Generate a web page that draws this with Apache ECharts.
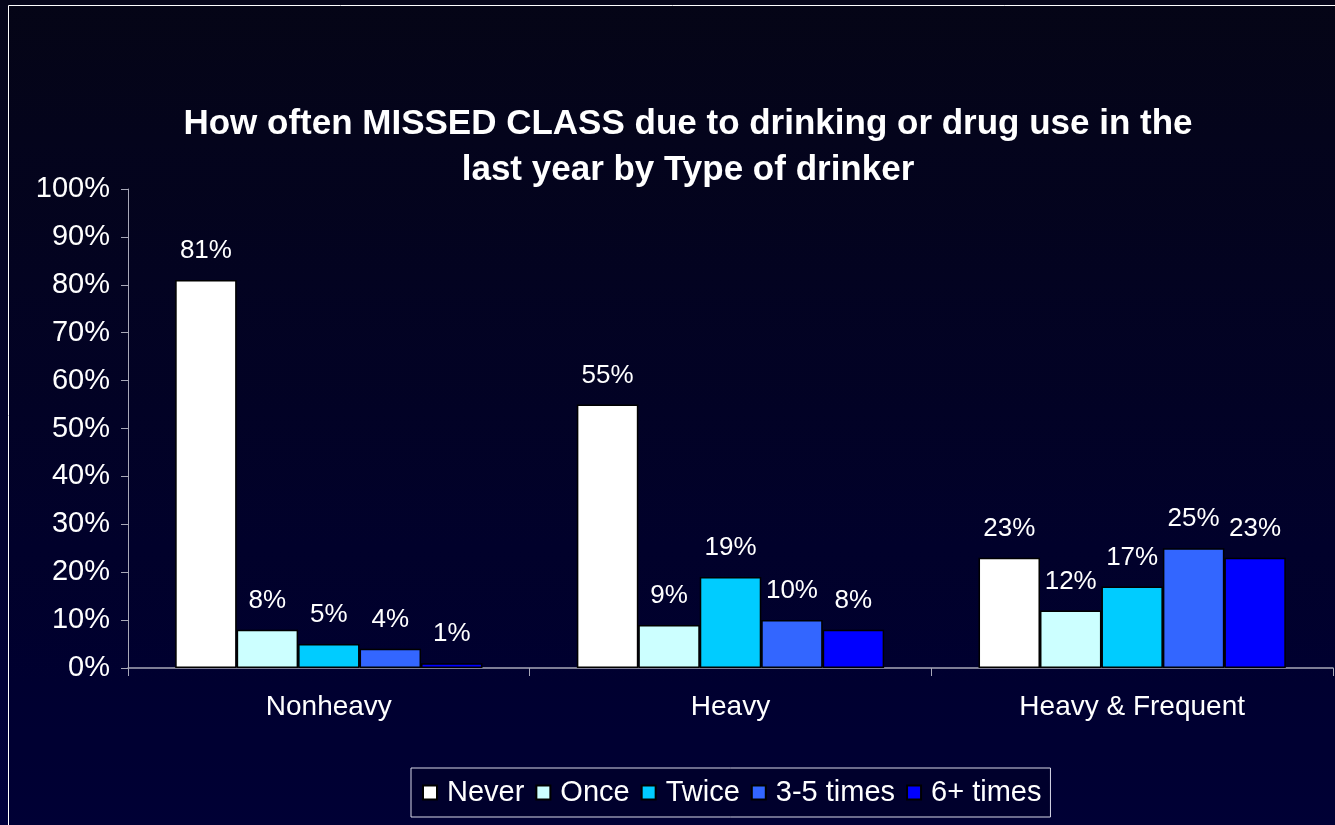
<!DOCTYPE html>
<html>
<head>
<meta charset="utf-8">
<script src="https://cdn.jsdelivr.net/npm/echarts@6/dist/echarts.min.js"></script>
<style>
  html, body { margin: 0; padding: 0; background: #03031f; }
  #chart { width: 1335px; height: 825px; }
</style>
</head>
<body>
<div id="chart"></div>
<script>
// Drinker types on the x axis
const categories = ['Nonheavy', 'Heavy', 'Heavy & Frequent'];

// Share of students by how often they missed class (percent)
const seriesNames = ['Never', 'Once', 'Twice', '3-5 times', '6+ times'];
const never     = [81, 55, 23];
const once      = [8, 9, 12];
const twice     = [5, 19, 17];
const threeFive = [4, 10, 25];
const sixPlus   = [1, 8, 23];

const seriesColors = ['#ffffff', '#ccffff', '#00ccff', '#3366ff', '#0000ff'];
const seriesValues = [never, once, twice, threeFive, sixPlus];

const titleLines = [
  'How often MISSED CLASS due to drinking or drug use in the',
  'last year by Type of drinker'
];

const font = '"Liberation Sans", Arial, sans-serif';

const chart = echarts.init(document.getElementById('chart'), null, { renderer: 'canvas' });

chart.setOption({
  animation: false,
  backgroundColor: {
    type: 'linear', x: 0, y: 0, x2: 0, y2: 1,
    colorStops: [
      { offset: 0, color: '#06061a' },
      { offset: 1, color: '#00003d' }
    ]
  },
  graphic: [
    {
      type: 'rect',
      shape: { x: 8.5, y: 5.5, width: 1340, height: 830 },
      style: { fill: 'rgba(0,0,0,0.12)', stroke: '#ffffff', lineWidth: 1 },
      silent: true,
      z: -1
    }
  ],
  title: {
    text: titleLines.join('\n'),
    left: 683,
    textAlign: 'center',
    top: 96,
    textStyle: {
      color: '#ffffff',
      fontFamily: font,
      fontWeight: 'bold',
      fontSize: 35,
      lineHeight: 46
    }
  },
  legend: {
    data: seriesNames,
    left: 411,
    top: 768,
    width: 642,
    height: 52,
    padding: [10, 9, 10, 11],
    itemGap: 11,
    itemWidth: 14,
    itemHeight: 14,
    icon: 'rect',
    borderColor: '#d8d8e8',
    borderWidth: 1,
    backgroundColor: 'rgba(0,0,40,0.6)',
    textStyle: { color: '#ffffff', fontFamily: font, fontSize: 29, padding: [0, 0, 0, 5] }
  },
  grid: {
    left: 128,
    right: 2,
    top: 189,
    bottom: 157,
    containLabel: false
  },
  xAxis: {
    type: 'category',
    data: categories,
    z: 1,
    axisLine: { lineStyle: { color: '#a8a8b8', width: 1.5 } },
    axisTick: { show: true, length: 8, lineStyle: { color: '#a8a8b8', width: 1 } },
    axisLabel: {
      color: '#ffffff',
      fontFamily: font,
      fontSize: 28,
      margin: 25
    },
    splitLine: { show: false }
  },
  yAxis: {
    type: 'value',
    min: 0,
    max: 100,
    interval: 10,
    axisLine: { show: true, lineStyle: { color: '#a8a8b8', width: 1 } },
    axisTick: { show: true, length: 7, lineStyle: { color: '#a8a8b8' } },
    axisLabel: {
      color: '#ffffff',
      fontFamily: font,
      fontSize: 29,
      margin: 18,
      formatter: '{value}%'
    },
    splitLine: { show: false }
  },
  series: seriesNames.map((name, i) => ({
    name: name,
    type: 'bar',
    z: 3,
    data: seriesValues[i],
    barGap: '0%',
    barCategoryGap: '23.5%',
    itemStyle: {
      color: seriesColors[i],
      borderColor: '#000000',
      borderWidth: 1.5
    },
    label: {
      show: true,
      position: 'top',
      distance: 16,
      formatter: '{c}%',
      color: '#ffffff',
      fontFamily: font,
      fontSize: 26
    }
  }))
});
</script>
</body>
</html>
